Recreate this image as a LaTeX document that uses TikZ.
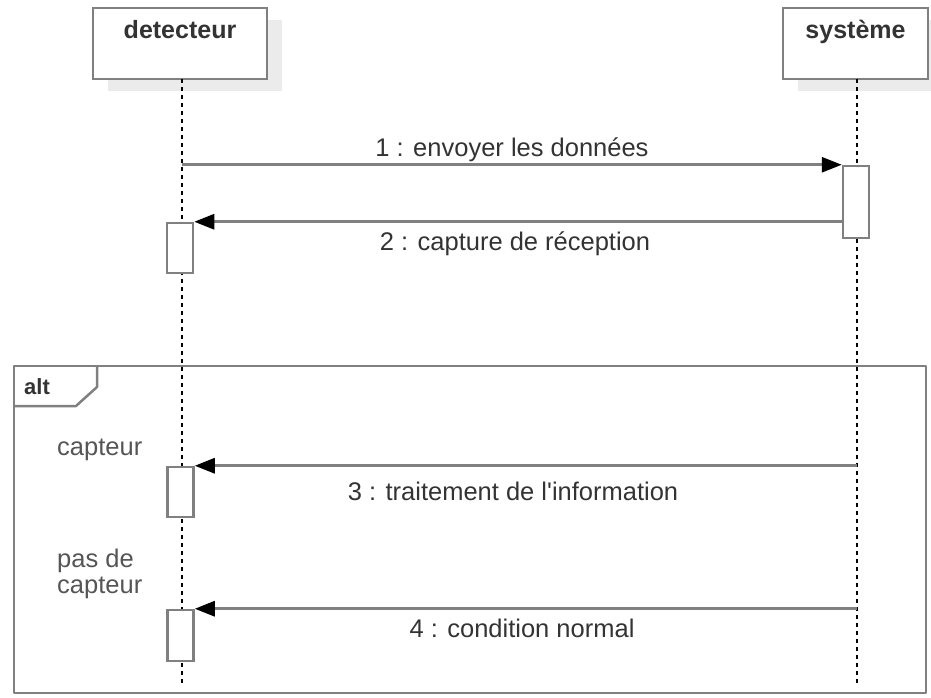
\documentclass[tikz,border=0pt]{standalone}
\usepackage{fontspec}
\setmainfont{Liberation Sans}[Ligatures=TeXOff]
\usetikzlibrary{arrows.meta,shadows,calc}
\definecolor{edge}{HTML}{808080}
\definecolor{ink}{HTML}{333333}
\definecolor{guardink}{HTML}{555555}
\definecolor{shade}{HTML}{EBEBEB}
\begin{document}
\begin{tikzpicture}[x=1pt,y=-1pt,
  txt/.style={font=\fontsize{25.5}{29}\selectfont},
  head/.style={draw=edge, line width=2.5pt, fill=white, minimum height=71pt,
    inner sep=0pt, text depth=0pt,
    drop shadow={shadow xshift=15pt, shadow yshift=-12pt, fill=shade, opacity=1}},
  headlabel/.style={font=\fontsize{25}{29}\selectfont\bfseries, text=ink, inner sep=0pt, anchor=base},
  act/.style={draw=edge, line width=2.5pt, fill=white, minimum width=26pt, inner sep=0pt},
  life/.style={draw=black, line width=2pt, dash pattern=on 4pt off 4pt},
  msg/.style={draw=edge, line width=3pt, -{Triangle[length=20pt,width=15pt,black]}},
  msglabel/.style={txt, text=ink, inner sep=0pt, anchor=base},
  guard/.style={txt, text=guardink, inner sep=0pt, align=left, anchor=base west}]
\useasboundingbox (0,0) rectangle (931,698);

% lifeline heads
\node[head, minimum width=174pt] (det) at (180,43.5) {};
\node[headlabel] (detl) at (180,39) {detecteur};
\node[head, minimum width=145pt] (sys) at (855.5,43.5) {};
\node[headlabel] (sysl) at (855.5,39) {système};

% lifeline ends
\coordinate (detend) at (182,685);
\coordinate (sysend) at (857,685);
\coordinate (dettop) at (182,79);
\coordinate (systop) at (857,79);

% combined fragment
\draw[edge, line width=2.5pt, line join=round] (14,366) rectangle (926,693);
\draw[edge, line width=2.5pt, line join=round] (14,406) -- (76,406) -- (97,387) -- (97,366);
\node[font=\fontsize{22}{26}\selectfont\bfseries, text=ink, anchor=base west, inner sep=0pt] (alt) at (24,394) {alt};

% lifelines
\draw[life] (dettop) -- (detend);
\draw[life] (systop) -- (sysend);

% activation bars
\node[act, minimum height=72pt] (a1) at (856,202) {};
\node[act, minimum height=50pt] (a2) at (180,248) {};
\node[act, minimum height=50pt] (a3) at (180.5,492) {};
\node[act, minimum height=51pt] (a4) at (180.5,635.5) {};

% messages
\draw[msg] (dettop |- a1.north west) -- (a1.north west);
\node[msglabel] (m1) at (512,157) {1 : envoyer les données};

\draw[msg] (a1.west |- a2.north east) -- (a2.north east);
\node[msglabel] (m2) at (515,250) {2 : capture de réception};

\draw[msg] (systop |- a3.north east) -- (a3.north east);
\node[msglabel] (m3) at (513,500) {3 : traitement de l'information};

\draw[msg] (systop |- a4.north east) -- (a4.north east);
\node[msglabel] (m4) at (522,637) {4 : condition normal};

% guards
\node[guard] (g1) at (57,455) {capteur};
\node[guard] (g2a) at (57,567) {pas de};
\node[guard] (g2b) at (57,593) {capteur};
\end{tikzpicture}
\end{document}
